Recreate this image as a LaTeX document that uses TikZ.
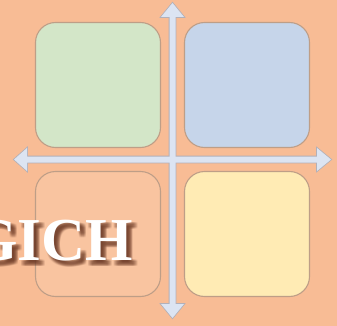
\documentclass[tikz,border=0pt]{standalone}
\usepackage{fontspec}
\setmainfont{Liberation Serif}
\definecolor{bgpeach}{RGB}{248,188,149}
\definecolor{qgreen}{RGB}{211,230,200}
\definecolor{qblue}{RGB}{198,213,234}
\definecolor{qorange}{RGB}{249,196,160}
\definecolor{qyellow}{RGB}{255,235,180}
\definecolor{qborder}{RGB}{190,158,135}
\definecolor{axfill}{RGB}{220,228,242}
\definecolor{axline}{RGB}{178,176,185}
\definecolor{shadowbrown}{RGB}{110,60,40}
\tikzset{
  quad/.style={draw=qborder, line width=1.1pt, rounded corners=20pt,
    minimum width=125pt, minimum height=125pt, inner sep=0pt},
  bigword/.style={font=\bfseries\fontsize{61}{61}\selectfont, inner sep=0pt, anchor=base east},
}
\begin{document}
\begin{tikzpicture}[x=1pt,y=-1pt]
\useasboundingbox (0,0) rectangle (337,326);
\fill[bgpeach] (0,0) rectangle (337,326);
% quadrants
\node[quad, fill=qgreen]  (tl) at (98,85) {};
\node[quad, fill=qblue]   (tr) at (247,85) {};
\node[quad, fill=qyellow] (br) at (247,234) {};
\node[quad, fill=qorange] (bl) at (98,234) {};
% axes
\def\vaxis{(172.5,3) -- (184,17) -- (175.5,17) -- (175.5,304) -- (184,304) -- (172.5,318) -- (161,304) -- (169.5,304) -- (169.5,17) -- (161,17) -- cycle}
\def\haxis{(14,159.5) -- (27,148) -- (27,156.5) -- (317,156.5) -- (317,148) -- (331,159.5) -- (317,171) -- (317,162.5) -- (27,162.5) -- (27,171) -- cycle}
\draw[axline, line width=1.6pt, line join=miter] \vaxis;
\draw[axline, line width=1.6pt, line join=miter] \haxis;
\fill[axfill] \vaxis;
\fill[axfill] \haxis;
% blurred shadow of the text
\foreach \dx in {2,3,4,5,6}{
  \foreach \dy in {2,3,4,5,6}{
    \node[bigword, text=shadowbrown, opacity=0.08] at (133+\dx,260+\dy) {GICH};
  }
}
\node[bigword, text=white] (word) at (133,260) {GICH};
\end{tikzpicture}
\end{document}
